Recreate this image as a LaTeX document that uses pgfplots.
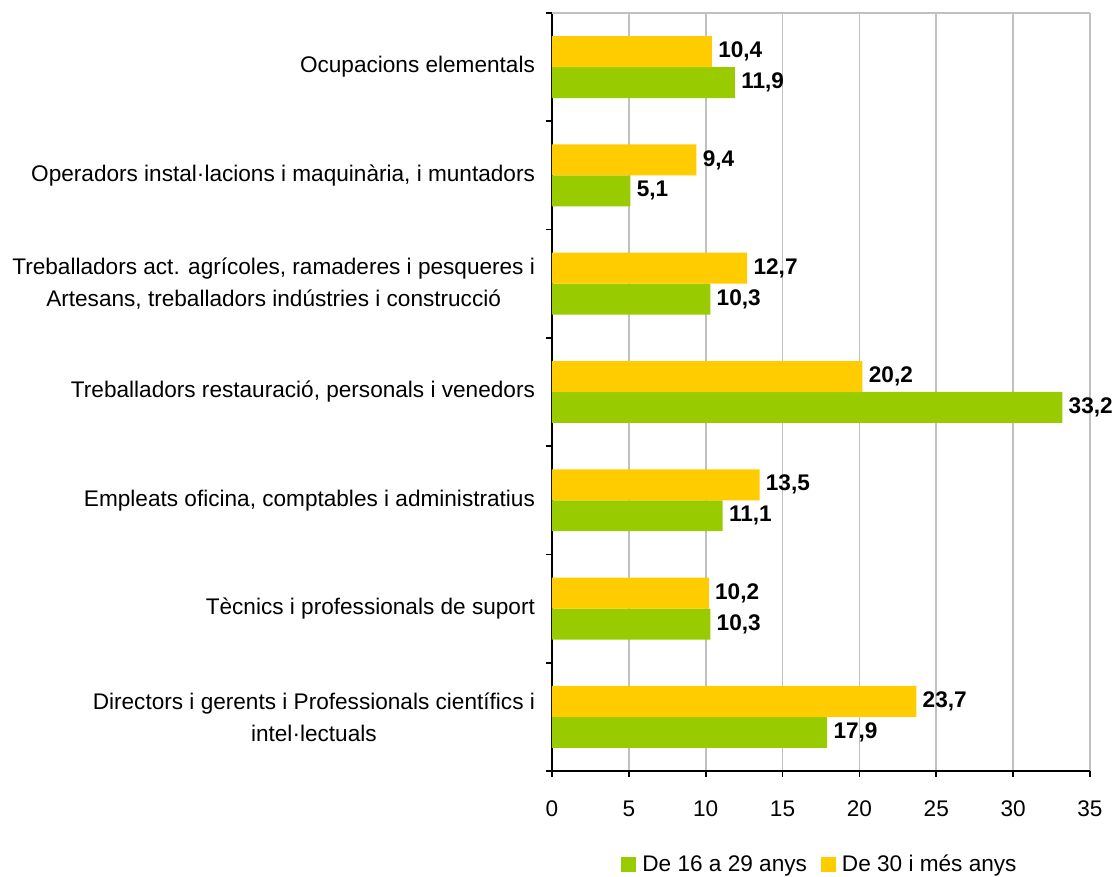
\documentclass[border=0pt]{standalone}
\usepackage{pgfplots}
\pgfplotsset{compat=1.18}
\usepackage{fontspec}
\setmainfont{Liberation Sans}
\definecolor{cgreen}{HTML}{99CC00}
\definecolor{cyellow}{HTML}{FFCC00}
\definecolor{cgrid}{HTML}{C0C0C0}
\begin{document}
\begin{tikzpicture}[font=\fontsize{11.3pt}{16pt}\selectfont]
\useasboundingbox (-276pt,-53pt) rectangle (281pt,385.5pt);
\begin{axis}[
  at={(0,0)}, anchor=south west,
  scale only axis, width=269pt, height=379pt,
  xbar, bar width=0.286,
  xmin=0, xmax=35, ymin=-0.5, ymax=6.5,
  axis x line*=bottom, axis y line*=left,
  axis line style={black, line width=0.8pt},
  xtick={0,5,...,35},
  ytick={-0.5,0.5,...,6.5},
  yticklabels={},
  extra y ticks={0,...,6},
  extra y tick labels={{Directors i gerents i Professionals científics i\\intel·lectuals},
    {Tècnics i professionals de suport},
    {Empleats oficina, comptables i administratius},
    {Treballadors restauració, personals i venedors},
    {Treballadors act. agrícoles, ramaderes i pesqueres i\\Artesans, treballadors indústries i construcció},
    {Operadors instal·lacions i maquinària, i muntadors},
    {Ocupacions elementals}},
  extra y tick style={major tick length=0pt},
  yticklabel style={align=center, anchor=east, xshift=-5pt},
  tick align=outside,
  major tick length=3pt,
  tick style={black, line width=0.8pt},
  xticklabel style={yshift=-8.5pt},
  xmajorgrids, grid style={cgrid, line width=0.8pt},
  /pgf/number format/assume math mode=true,
  point meta=x,
  nodes near coords={\pgfmathprintnumber[fixed,fixed zerofill,precision=1,use comma]{\pgfplotspointmeta}},
  every node near coord/.append style={anchor=west, font=\fontsize{11.3pt}{13pt}\selectfont\bfseries, inner sep=3pt, text=black},
  clip=false,
  legend style={at={(0.5,-0.124)}, anchor=center, legend columns=-1, draw=none,
    font=\fontsize{11.3pt}{13pt}\selectfont,
    /tikz/every odd column/.append style={column sep=1pt},
    /tikz/every even column/.append style={column sep=5pt}},
  legend image code/.code={\fill[#1,draw=none] (0pt,-3.75pt) rectangle (7.5pt,3.75pt);},
]
\draw[cgrid, line width=0.8pt] (rel axis cs:0,1) -- (rel axis cs:1,1);
\addplot[fill=cgreen, draw=none, bar shift=-0.143] coordinates {
  (17.9,0) (10.3,1) (11.1,2) (33.2,3) (10.3,4) (5.1,5) (11.9,6)};
\addplot[fill=cyellow, draw=none, bar shift=0.143] coordinates {
  (23.7,0) (10.2,1) (13.5,2) (20.2,3) (12.7,4) (9.4,5) (10.4,6)};
\legend{De 16 a 29 anys, De 30 i més anys}
\end{axis}
\end{tikzpicture}
\end{document}
